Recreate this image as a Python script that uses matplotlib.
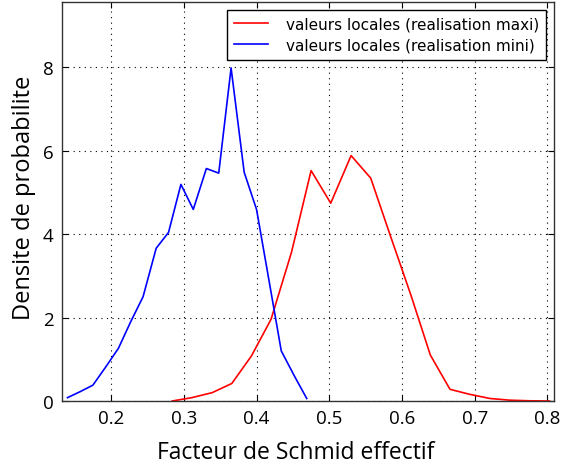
import matplotlib
matplotlib.use('Agg')
import matplotlib.pyplot as plt

# histogrammes (densite)
x_maxi = [0.284, 0.311, 0.339, 0.366, 0.393, 0.420, 0.448, 0.475, 0.502, 0.530,
          0.557, 0.584, 0.612, 0.639, 0.666, 0.693, 0.721, 0.748, 0.775, 0.803]
y_maxi = [0.0, 0.08, 0.2, 0.42, 1.08, 1.96, 3.56, 5.52, 4.74, 5.88,
          5.34, 3.96, 2.55, 1.10, 0.28, 0.16, 0.06, 0.02, 0.005, 0.0]

x_mini = [0.140, 0.157, 0.175, 0.192, 0.210, 0.227, 0.244, 0.262, 0.279, 0.296,
          0.313, 0.331, 0.348, 0.365, 0.383, 0.400, 0.417, 0.434, 0.452, 0.469]
y_mini = [0.08, 0.22, 0.38, 0.8, 1.26, 1.9, 2.50, 3.66, 4.04, 5.19,
          4.59, 5.57, 5.46, 7.98, 5.48, 4.59, 2.9, 1.20, 0.6, 0.06]

xticks = [0.2, 0.3, 0.4, 0.5, 0.6, 0.7, 0.8]
yticks = [0, 2, 4, 6, 8]

fig = plt.figure(figsize=(5.61, 4.64), dpi=100)
ax = fig.add_axes([62 / 561, 1 - 402 / 464, (554 - 62) / 561, (402 - 3) / 464])

ax.plot(x_maxi, y_maxi, color='red', lw=1.2, label='valeurs locales (realisation maxi)')
ax.plot(x_mini, y_mini, color='blue', lw=1.2, label='valeurs locales (realisation mini)')

ax.set_xlim(0.1325, 0.809)
ax.set_ylim(0, 9.56)
ax.set_xticks(xticks)
ax.set_yticks(yticks)
ax.set_xticklabels([str(t) for t in xticks], family='Open Sans', fontsize=13.5)
ax.set_yticklabels([str(t) for t in yticks], family='Open Sans', fontsize=13.5)
ax.tick_params(direction='in', top=True, right=True, length=4, width=0.8, pad=6)

ax.grid(True, color='black', linestyle=(0, (1, 4)), linewidth=0.8)
for s in ax.spines.values():
    s.set_linewidth(1.0)
    s.set_color('#333333')

ax.set_xlabel('Facteur de Schmid effectif', family='Open Sans', fontsize=16.5)
ax.set_ylabel('Densite de probabilite', family='Open Sans', fontsize=17)
ax.xaxis.set_label_coords(0.475, -0.097)
ax.yaxis.set_label_coords(-0.052, 0.512)

leg = ax.legend(loc='upper right', prop={'family': 'DejaVu Sans', 'size': 11},
                fancybox=False, framealpha=1, borderaxespad=0.5,
                handlelength=2.2, handletextpad=1.2, borderpad=0.45, labelspacing=0.4)
leg.get_frame().set_edgecolor('black')
leg.get_frame().set_linewidth(1.0)

plt.savefig('out.png', dpi=100)
